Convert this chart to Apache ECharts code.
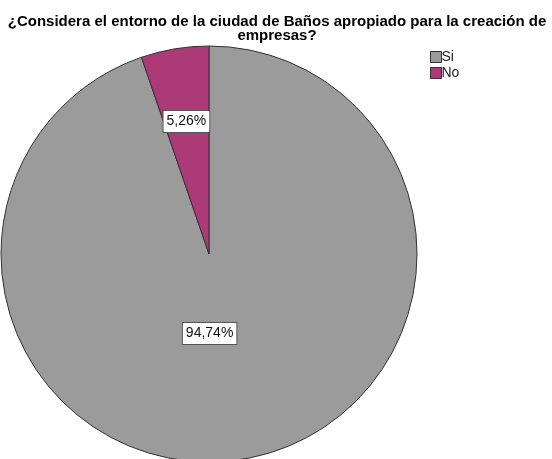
<!DOCTYPE html>
<html>
<head>
<meta charset="utf-8">
<script src="https://cdn.jsdelivr.net/npm/echarts@6/dist/echarts.min.js"></script>
<style>
  html, body { margin: 0; padding: 0; background: #fff; }
  #chart { width: 552px; height: 459px; }
</style>
</head>
<body>
<div id="chart"></div>
<script>
// Survey answers and their percentages
const categories = ['Si', 'No'];
const percentages = [94.74, 5.26];
const sliceColors = ['#9b9b9b', '#ad3a78'];
// label nudges so boxes sit where the chart has them
const labelOffsets = [[-17, -26], [-5, -27]];

const chart = echarts.init(document.getElementById('chart'), null, { renderer: 'canvas' });

const pieData = categories.map((name, i) => ({
  name: name,
  value: percentages[i],
  itemStyle: { color: sliceColors[i] },
  label: { offset: labelOffsets[i] }
}));

chart.setOption({
  animation: false,
  backgroundColor: '#ffffff',
  title: {
    text: '¿Considera el entorno de la ciudad de Baños apropiado para la creación de\nempresas?',
    left: 272,
    top: 10,
    textAlign: 'center',
    textStyle: {
      fontFamily: 'Arial, "Liberation Sans", sans-serif',
      fontSize: 15,
      fontWeight: 'bold',
      color: '#000',
      lineHeight: 14
    }
  },
  legend: {
    orient: 'vertical',
    left: 425,
    top: 45,
    itemWidth: 11,
    itemHeight: 11,
    itemGap: 2,
    icon: 'rect',
    data: categories,
    itemStyle: { borderColor: '#333', borderWidth: 1 },
    textStyle: {
      fontFamily: 'Arial, "Liberation Sans", sans-serif',
      fontSize: 14,
      color: '#222',
      padding: [0, 0, 0, -5]
    }
  },
  series: [{
    type: 'pie',
    center: [209, 254],
    radius: [0, 208],
    startAngle: 90,
    clockwise: true,
    avoidLabelOverlap: false,
    data: pieData,
    itemStyle: { borderColor: '#333', borderWidth: 1 },
    emphasis: { disabled: true },
    label: {
      show: true,
      position: 'inside',
      formatter: p => p.value.toFixed(2).replace('.', ',') + '%',
      fontFamily: 'Arial, "Liberation Sans", sans-serif',
      fontSize: 14,
      color: '#111',
      backgroundColor: '#fff',
      borderColor: '#555',
      borderWidth: 1,
      padding: [4, 3, 3, 3]
    },
    labelLine: { show: false }
  }]
});
</script>
</body>
</html>
